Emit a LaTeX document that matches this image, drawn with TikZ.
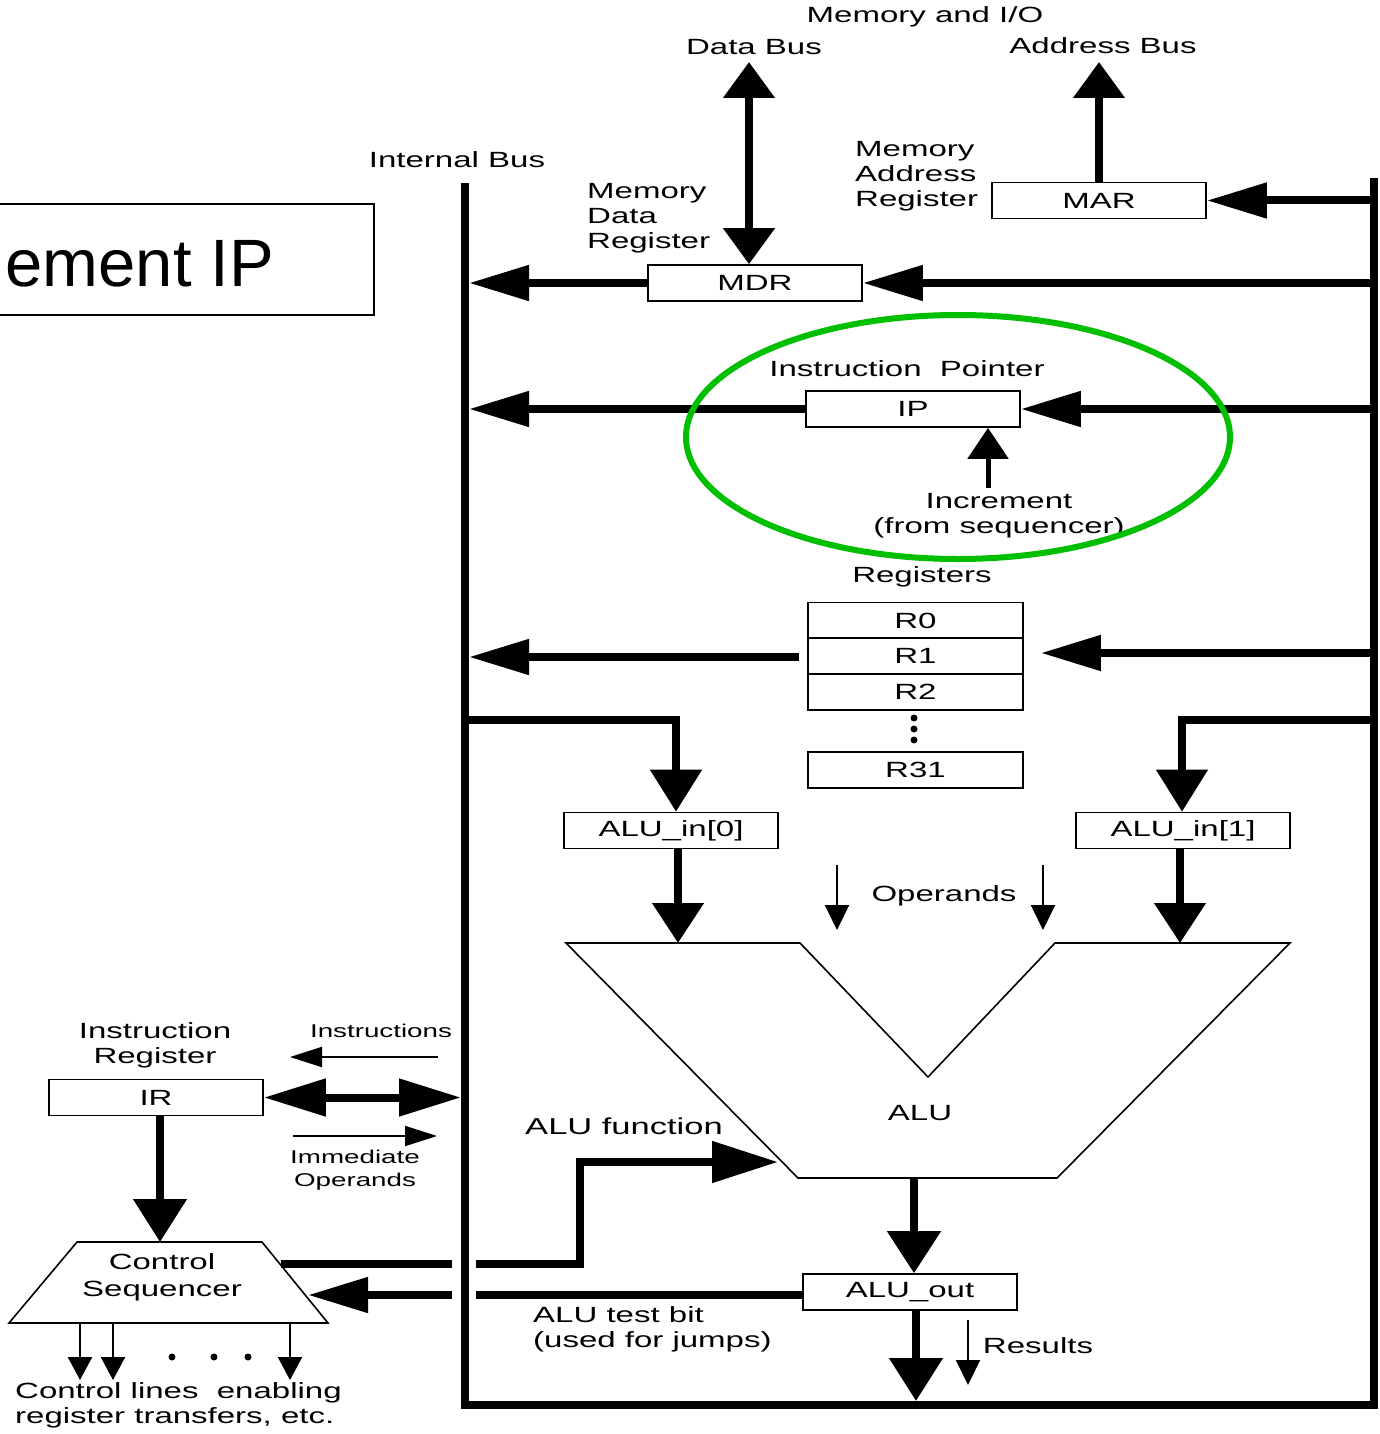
\documentclass[tikz,border=0pt]{standalone}
\usepackage{fontspec}
\usepackage{tikz}
\usetikzlibrary{arrows.meta,calc}
\newfontfamily\lblfont[FakeStretch=1.5]{Liberation Sans}
\newfontfamily\bigfont{Liberation Sans}
\newcommand\lbltext{\lblfont\fontsize{22}{25}\selectfont}
\newcommand\smalltext{\lblfont\fontsize{18.5}{23}\selectfont}
\definecolor{ringgreen}{RGB}{0,190,0}
\tikzset{
  lbl/.style={font=\lbltext, align=center, inner sep=0pt},
  smalllbl/.style={font=\smalltext, align=center, inner sep=0pt},
  reg/.style={draw, line width=1.6pt, minimum width=214pt, minimum height=36pt, inner sep=0pt, font=\lbltext},
  bus/.style={line width=8pt, line join=miter},
  harrow/.style={bus, -{Triangle[length=60pt,width=34pt]}},
  varrow/.style={bus, -{Triangle[length=40pt,width=50pt]}},
  fine/.style={line width=2pt},
  hfine/.style={fine, -{Triangle[length=32pt,width=20pt]}},
  vfine/.style={fine, -{Triangle[length=25pt,width=24pt]}},
}

\begin{document}
\begin{tikzpicture}[x=1pt,y=-1pt]
\useasboundingbox (0,0) rectangle (1379,1434);
\fill[white] (0,0) rectangle (1379,1434);

% buses
\coordinate (busTop) at (465,183);
\coordinate (busBot) at (465,1405);
\coordinate (rBot) at (1374,1405);
\coordinate (rTop) at (1374,178);
\coordinate (bl) at (469,0);
\coordinate (blL) at (461,0);
\coordinate (br) at (1374,0);
\coordinate (bb) at (0,1401);
\draw[bus] (busTop) -- (busBot) -- (rBot) -- (rTop);
\node[lbl] (ibus) at (457,160) {Internal Bus};

% memory side
\node[lbl] (memio) at (925,17) {Memory and I/O};
\node[lbl] (dbuslbl) at (754,47) {Data Bus};
\node[lbl] (abuslbl) at (1103,46) {Address Bus};
\node[reg] (mar) at (1099,200.5) {MAR};
\node[reg] (mdr) at (755,283) {MDR};
\node[lbl, align=left, anchor=west] (marlbl) at (855,176) {Memory\\Address\\Register};
\node[lbl, align=left, anchor=west] (mdrlbl) at (587,218.5) {Memory\\Data\\Register};
\coordinate (dtop) at (749,62);
\coordinate (atop) at (1099,62);
\draw[bus, {Triangle[length=36pt,width=50pt]}-{Triangle[length=36pt,width=50pt]}] (dtop) -- (dtop |- mdr.north);
\draw[bus, -{Triangle[length=36pt,width=50pt]}] (mar.north) -- (atop);
\draw[harrow] (mar.east -| br) -- (mar.east);
\draw[harrow] (mdr.west) -- (mdr.west -| bl);
\draw[harrow] (mdr.east -| br) -- (mdr.east);

% instruction pointer
\node[reg] (ip) at (913,409) {IP};
\node[lbl] (iplbl) at (907,369) {Instruction\ \ Pointer};
\draw[harrow] (ip.west) -- (ip.west -| bl);
\draw[harrow] (ip.east -| br) -- (ip.east);
\node[lbl] (inc) at (999,515.5) {Increment\\(from sequencer)};
\coordinate (incbase) at (988,488);
\draw[line width=5pt, -{Triangle[length=31pt,width=40pt]}] (incbase) -- (incbase |- ip.south);
\draw[ringgreen, line width=6pt] (958,437) ellipse [x radius=272pt, y radius=122pt];

% register file
\node[lbl] (regslbl) at (922,577) {Registers};
\node[reg, minimum width=215pt] (r0) at (915.5,620.5) {R0};
\node[reg, minimum width=215pt] (r1) at (915.5,656) {R1};
\node[reg, minimum width=215pt] (r2) at (915.5,692) {R2};
\node[reg, minimum width=215pt] (r31) at (915.5,770) {R31};
\foreach \y in {718,729,740}
  \fill (914,\y) circle[radius=3.5pt];
\draw[harrow] ($(r1.west)+(-8,1)$) -- ($(r1.west -| bl)+(0,1)$);
\draw[harrow] ($(r1.east -| br)+(0,-3)$) -- ($(r1.east)+(17,-3)$);

% ALU inputs
\node[reg] (ain0) at (671,830.5) {ALU\_in[0]};
\node[reg] (ain1) at (1183,830.5) {ALU\_in[1]};
\coordinate (tapL) at (465,720);
\coordinate (tapR) at (1374,720);
\coordinate (aluTop) at (0,943);
\draw[bus, -{Triangle[length=42pt,width=50pt]}] (tapL) -| ($(ain0.north)+(5,0)$);
\draw[bus, -{Triangle[length=42pt,width=50pt]}] (tapR) -| ($(ain1.north)+(-1,0)$);
\draw[varrow] ($(ain0.south)+(7,0)$) -- ($(ain0.south |- aluTop)+(7,0)$);
\draw[varrow] ($(ain1.south)+(-3,0)$) -- ($(ain1.south |- aluTop)+(-3,0)$);
\node[lbl] (ops) at (944,896) {Operands};
\coordinate (opL) at (837,865);
\coordinate (opR) at (1043,865);
\draw[vfine] (opL) -- ++(0,65);
\draw[vfine] (opR) -- ++(0,65);

% ALU
\draw[line width=1.6pt] (566,943) -- (800,943) -- (928,1077) -- (1055,943) -- (1290,943) -- (1057,1178) -- (798,1178) -- cycle;
\node[lbl] (alu) at (920,1113) {ALU};
\node[reg] (aout) at (910,1292) {ALU\_out};
\coordinate (aluOut) at (914,1178);
\draw[bus, -{Triangle[length=42pt,width=52pt]}] (aluOut) -- (aluOut |- aout.north);
\draw[bus, -{Triangle[length=43pt,width=52pt]}] ($(aout.south)+(6,0)$) -- ($(aout.south |- bb)+(6,0)$);
\coordinate (resTop) at (968,1320);
\draw[vfine] (resTop) -- ++(0,65);
\node[lbl] (res) at (1038,1346) {Results};

% instruction register and sequencer
\node[reg] (ir) at (156,1097.5) {IR};
\node[lbl] (irlbl) at (155,1045) {Instruction\\Register};
\draw[bus, {Triangle[length=62pt,width=36pt]}-{Triangle[length=62pt,width=36pt]}] (ir.east) -- (ir.east -| blL);
\node[smalllbl] (instr) at (381,1031) {Instructions};
\coordinate (instrFrom) at (438,1057);
\draw[hfine] (instrFrom) -- ++(-148,0);
\coordinate (immFrom) at (293,1136);
\draw[hfine] (immFrom) -- ++(144,0);
\node[smalllbl] (imm) at (355,1170) {Immediate\\Operands};

\coordinate (seqTL) at (77,1242);
\coordinate (seqTR) at (262,1242);
\coordinate (seqBR) at (328,1323);
\coordinate (seqBL) at (9,1323);
\draw[line width=1.6pt] (seqTL) -- (seqTR) -- (seqBR) -- (seqBL) -- cycle;
\node[lbl, font=\lblfont\fontsize{22}{27}\selectfont] (seq) at (162,1277) {Control\\Sequencer};
\draw[bus, -{Triangle[length=43pt,width=52pt]}] ($(ir.south)+(4,0)$) -- ($(ir.south |- seqTL)+(4,0)$);

% control lines
\foreach \x in {80,113,290}
  \draw[line width=2.5pt, -{Triangle[length=23pt,width=24pt]}] (\x,1323) -- (\x,1380);
\foreach \x in {172,214,248}
  \fill (\x,1357) circle[radius=3.5pt];
\node[lbl, align=left, anchor=west] (ctl) at (15,1405.5) {Control lines\ \ enabling\\register transfers, etc.};

% ALU function and test bit
\coordinate (fnOut) at (281,1264);
\coordinate (fnIn) at (778,1162);
\draw[bus] (fnOut) -- (452,1264);
\draw[bus, -{Triangle[length=66pt,width=40pt]}] (476,1264) -| (580,1162) -- (fnIn);
\node[lbl, font=\lblfont\fontsize{23}{26}\selectfont] (fnlbl) at (624,1126) {ALU function};
\coordinate (tbIn) at (308,1295);
\coordinate (tbOut) at (476,1295);
\draw[bus] ($(aout.west)+(0,3)$) -- (tbOut);
\draw[harrow] (452,1295) -- (tbIn);
\node[lbl, align=left, anchor=west] (tblbl) at (533,1329) {ALU test bit\\(used for jumps)};

% slide title remnant
\draw[line width=2pt] (-5,204) rectangle (374,315);
\node[anchor=east, font=\bigfont\fontsize{67}{74}\selectfont, inner sep=0pt] (incip) at (274,264) {ement IP};
\end{tikzpicture}
\end{document}
